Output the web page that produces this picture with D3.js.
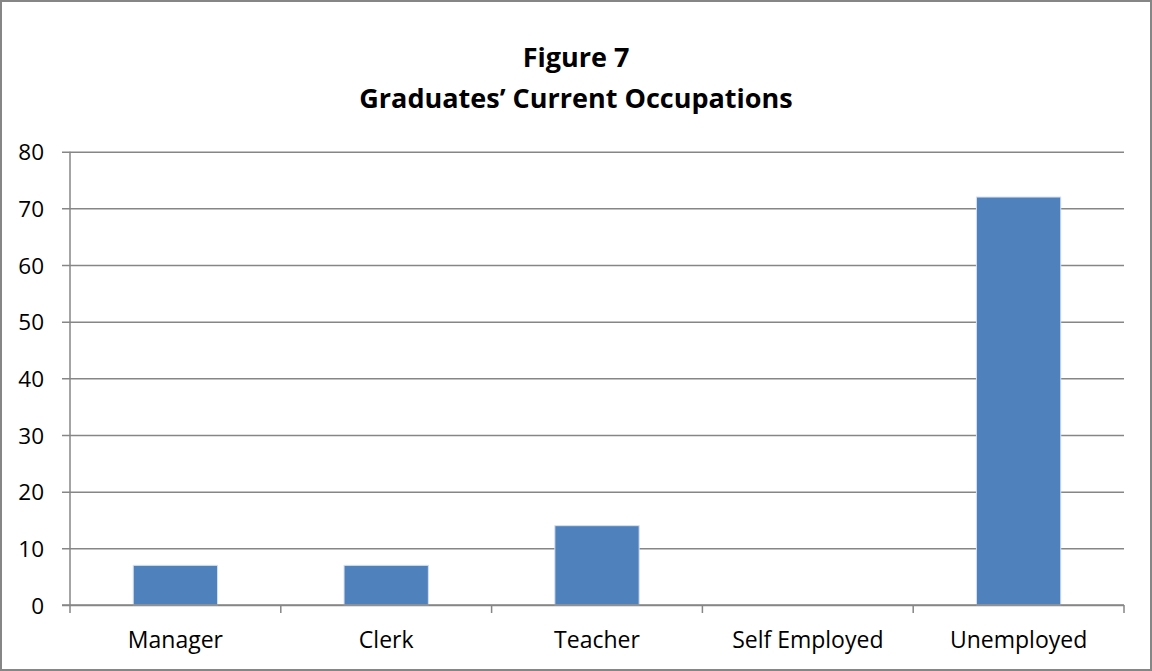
<!DOCTYPE html>
<html>
  <head>
    <meta charset="utf-8">
    <style>
    body { margin: 0; background: #fff; }
    text { font-family: "Open Sans", Lato, sans-serif; fill: #000; }
    .grid line { stroke: #868686; stroke-width: 1.5px; }
    .grid .domain { display: none; }
    .xaxis .domain, .xaxis line { display: none; }
    </style>
  </head>
  <body>
    <script src="https://d3js.org/d3.v7.min.js"></script>
    <script>

    var categories = ["Manager", "Clerk", "Teacher", "Self Employed", "Unemployed"];
    var values = [7, 7, 14, 0, 72];
    var yTicks = [0, 10, 20, 30, 40, 50, 60, 70, 80];
    var titleLines = ["Figure 7", "Graduates\u2019 Current Occupations"];

    var width = 1152, height = 671;
    var plot = {left: 70, right: 1124, top: 151.7, bottom: 605};

    var svg = d3.select("body").append("svg")
        .attr("width", width)
        .attr("height", height);

    // outer frame
    svg.append("rect")
        .attr("x", 1).attr("y", 1)
        .attr("width", width - 2).attr("height", height - 2)
        .attr("fill", "#fff")
        .attr("stroke", "#868686")
        .attr("stroke-width", 2);

    var x = d3.scaleBand()
        .domain(categories)
        .range([plot.left, plot.right])
        .paddingInner(0.6)
        .paddingOuter(0.3);

    var y = d3.scaleLinear()
        .domain([0, 80])
        .range([plot.bottom, plot.top]);

    // gridlines + y labels
    svg.append("g")
        .attr("class", "grid")
        .attr("transform", "translate(" + (plot.left - 8) + ",0)")
        .call(d3.axisLeft(y)
          .tickValues(yTicks)
          .tickSize(-(plot.right - plot.left + 8))
          .tickPadding(18))
      .selectAll("text")
        .style("font-size", "22.5px")
        .attr("dy", "0.36em");

    // y axis line
    svg.append("line")
        .attr("x1", plot.left).attr("x2", plot.left)
        .attr("y1", plot.top).attr("y2", plot.bottom)
        .attr("stroke", "#868686").attr("stroke-width", 1.5);

    // category boundary ticks
    var gap = x.step() - x.bandwidth();
    var bounds = categories.map(function(d) { return x(d) - gap / 2; }).concat([plot.right]);
    svg.append("g")
      .selectAll("line")
      .data(bounds)
      .enter().append("line")
        .attr("x1", function(d) { return d; })
        .attr("x2", function(d) { return d; })
        .attr("y1", plot.bottom)
        .attr("y2", plot.bottom + 8)
        .attr("stroke", "#868686").attr("stroke-width", 1.5);

    // bars
    svg.append("g")
      .selectAll("rect")
      .data(values)
      .enter().append("rect")
        .attr("x", function(d, i) { return x(categories[i]); })
        .attr("y", function(d) { return y(d); })
        .attr("width", x.bandwidth())
        .attr("height", function(d) { return y(0) - y(d); })
        .attr("fill", "#4F81BD")
        .attr("stroke", "#d6e0ef")
        .attr("stroke-width", function(d) { return d > 0 ? 1 : 0; });

    // x baseline over bars
    svg.append("line")
        .attr("x1", plot.left - 8).attr("x2", plot.right)
        .attr("y1", plot.bottom).attr("y2", plot.bottom)
        .attr("stroke", "#868686").attr("stroke-width", 1.5);

    // category labels
    svg.append("g")
        .attr("class", "xaxis")
        .attr("transform", "translate(0," + plot.bottom + ")")
        .call(d3.axisBottom(x).tickSize(0).tickPadding(0))
      .selectAll("text")
        .style("font-size", "23px")
        .attr("dy", null)
        .attr("y", 43);

    // title
    svg.append("g")
      .selectAll("text")
      .data(titleLines)
      .enter().append("text")
        .attr("x", width / 2)
        .attr("y", function(d, i) { return 67 + i * 41; })
        .attr("text-anchor", "middle")
        .style("font-size", "27px")
        .style("font-weight", "bold")
        .text(function(d) { return d; });

    </script>
  </body>
</html>
